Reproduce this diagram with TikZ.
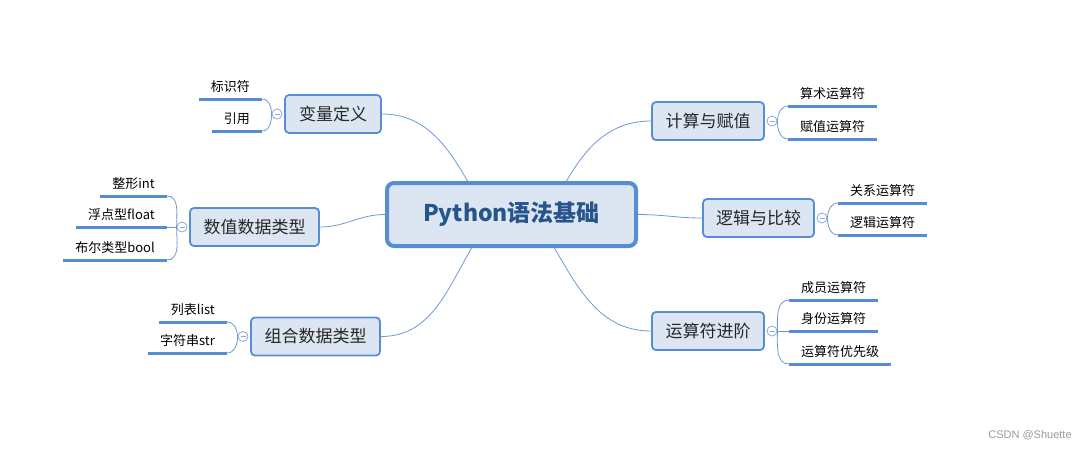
\documentclass[tikz,border=0pt]{standalone}
\usepackage{fontspec}
\setmainfont{Noto Sans CJK SC}
\newfontfamily\markfont{Liberation Sans}
\pgfdeclarelayer{edgelayer}
\pgfdeclarelayer{nodelayer}
\pgfsetlayers{edgelayer,nodelayer,main}
\definecolor{mapblue}{RGB}{85,142,213}
\definecolor{mapfill}{RGB}{220,230,242}
\definecolor{maptitle}{RGB}{40,84,140}
\definecolor{mapline}{RGB}{110,152,212}
\definecolor{mapknob}{RGB}{140,170,215}
\tikzstyle{root}=[draw=mapblue, fill=mapfill, line width=4pt, rounded corners=7pt, minimum width=249pt, minimum height=63pt, text=maptitle, font=\fontsize{23}{26}\selectfont\bfseries]
\tikzstyle{topic}=[draw=mapblue, fill=mapfill, line width=1.8pt, rounded corners=4pt, minimum height=38pt, text=black!85, font=\fontsize{17}{20}\selectfont]
\tikzstyle{leaf}=[inner xsep=12pt, inner ysep=4pt, text height=10pt, text depth=3pt, font=\fontsize{13}{15}\selectfont]
\tikzstyle{leafline}=[draw=mapblue, line width=3pt]
\tikzstyle{edge}=[draw=mapline, line width=0.8pt]
\tikzstyle{knob}=[circle, draw=mapknob, fill=white, line width=0.8pt, minimum size=10pt, inner sep=0pt, path picture={\draw[mapknob, line width=0.8pt] ([xshift=2.5pt]path picture bounding box.west) -- ([xshift=-2.5pt]path picture bounding box.east);}]

\begin{document}
\begin{tikzpicture}[x=1pt, y=-1pt]
						\useasboundingbox (0,0) rectangle (1084,448);
						\begin{pgfonlayer}{nodelayer}
							\node [style=root] (0) at (511.5, 214.5) {Python语法基础};
							\node [style=topic, minimum width=96pt] (1) at (333, 114) {变量定义};
							\node [style=topic, minimum width=129pt] (2) at (254.5, 227) {数值数据类型};
							\node [style=topic, minimum width=129pt] (3) at (315.5, 336.5) {组合数据类型};
							\node [style=topic, minimum width=112pt] (4) at (708, 121) {计算与赋值};
							\node [style=topic, minimum width=111pt] (5) at (758.5, 218) {逻辑与比较};
							\node [style=topic, minimum width=112pt] (6) at (708, 331) {运算符进阶};
							\node [style=knob] (10) at (277, 114) {};
							\node [style=knob] (20) at (182, 227) {};
							\node [style=knob] (30) at (243, 336.5) {};
							\node [style=knob] (40) at (772, 121) {};
							\node [style=knob] (50) at (822, 218) {};
							\node [style=knob] (60) at (772, 331) {};
							\node [style=leaf, anchor=south east] (11) at (262, 99) {标识符};
							\node [style=leaf, anchor=south east] (12) at (262, 131) {引用};
							\node [style=leaf, anchor=south east] (21) at (167, 196) {整形int};
							\node [style=leaf, anchor=south east] (22) at (167, 227) {浮点型float};
							\node [style=leaf, anchor=south east] (23) at (167, 260) {布尔类型bool};
							\node [style=leaf, anchor=south east] (31) at (227, 322) {列表list};
							\node [style=leaf, anchor=south east] (32) at (227, 353) {字符串str};
							\node [style=leaf, anchor=south west] (41) at (788, 106) {算术运算符};
							\node [style=leaf, anchor=south west] (42) at (788, 139) {赋值运算符};
							\node [style=leaf, anchor=south west] (51) at (838, 203) {关系运算符};
							\node [style=leaf, anchor=south west] (52) at (838, 235) {逻辑运算符};
							\node [style=leaf, anchor=south west] (61) at (789, 300) {成员运算符};
							\node [style=leaf, anchor=south west] (62) at (789, 331) {身份运算符};
							\node [style=leaf, anchor=south west] (63) at (789, 364) {运算符优先级};
							\node [text=black!40, font=\markfont\fontsize{11}{13}\selectfont] (99) at (1030, 435) {CSDN @Shuette};
						\end{pgfonlayer}
						\begin{pgfonlayer}{edgelayer}
							\draw [style=edge] (1.east) to[out=0, in=120] ([xshift=-44pt]0.north);
							\draw [style=edge] (2.east) to[out=0, in=180] (0.west);
							\draw [style=edge] (3.east) to[out=0, in=240] ([xshift=-40pt]0.south);
							\draw [style=edge] (4.west) to[out=180, in=60] ([xshift=55pt]0.north);
							\draw [style=edge] (5.west) to[out=180, in=0] (0.east);
							\draw [style=edge] (6.west) to[out=180, in=300] ([xshift=43pt]0.south);
							\draw [style=edge] (10.west) to[out=90, in=0] (11.south east);
							\draw [style=edge] (10.west) to[out=270, in=0] (12.south east);
							\draw [style=edge] (20.west) to[out=90, in=0] (21.south east);
							\draw [style=edge] (20.west) to (22.south east);
							\draw [style=edge] (20.west) to[out=270, in=0] (23.south east);
							\draw [style=edge] (30.west) to[out=90, in=0] (31.south east);
							\draw [style=edge] (30.west) to[out=270, in=0] (32.south east);
							\draw [style=edge] (40.east) to[out=90, in=180] (41.south west);
							\draw [style=edge] (40.east) to[out=270, in=180] (42.south west);
							\draw [style=edge] (50.east) to[out=90, in=180] (51.south west);
							\draw [style=edge] (50.east) to[out=270, in=180] (52.south west);
							\draw [style=edge] (60.east) to[out=90, in=180] (61.south west);
							\draw [style=edge] (60.east) to (62.south west);
							\draw [style=edge] (60.east) to[out=270, in=180] (63.south west);
							\draw [style=leafline] (11.south west) -- (11.south east);
							\draw [style=leafline] (12.south west) -- (12.south east);
							\draw [style=leafline] (21.south west) -- (21.south east);
							\draw [style=leafline] (22.south west) -- (22.south east);
							\draw [style=leafline] (23.south west) -- (23.south east);
							\draw [style=leafline] (31.south west) -- (31.south east);
							\draw [style=leafline] (32.south west) -- (32.south east);
							\draw [style=leafline] (41.south west) -- (41.south east);
							\draw [style=leafline] (42.south west) -- (42.south east);
							\draw [style=leafline] (51.south west) -- (51.south east);
							\draw [style=leafline] (52.south west) -- (52.south east);
							\draw [style=leafline] (61.south west) -- (61.south east);
							\draw [style=leafline] (62.south west) -- (62.south east);
							\draw [style=leafline] (63.south west) -- (63.south east);
						\end{pgfonlayer}
					\end{tikzpicture}
\end{document}
